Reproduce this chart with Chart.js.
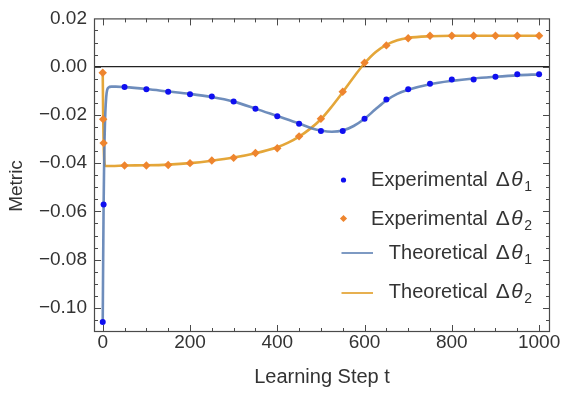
<!DOCTYPE html>
<html><head><meta charset="utf-8">
<script src="https://cdn.jsdelivr.net/npm/chart.js@4/dist/chart.umd.min.js"></script>
<style>html,body{margin:0;padding:0;background:#fff}#c{display:block}</style>
</head><body>
<canvas id="c" width="561" height="394"></canvas>
<script>
// ---- data ----
const expSteps1 = [0, 2, 50, 100, 150, 200, 250, 300, 350, 400, 450, 500, 550, 600, 650, 700, 750, 800, 850, 900, 950, 1000];
const expValues1 = [-0.1059, -0.0571, -0.0084, -0.0094, -0.0104, -0.0114, -0.0124, -0.0144, -0.0175, -0.0206, -0.0237, -0.0267, -0.0267, -0.0216, -0.0136, -0.0094, -0.0071, -0.0053, -0.0053, -0.0042, -0.0032, -0.0032];

const expSteps2 = [0, 1, 2, 50, 100, 150, 200, 250, 300, 350, 400, 450, 500, 550, 600, 650, 700, 750, 800, 850, 900, 950, 1000];
const expValues2 = [-0.0025, -0.0218, -0.0317, -0.0410, -0.0410, -0.0408, -0.0400, -0.0389, -0.0378, -0.0358, -0.0338, -0.0289, -0.0216, -0.0104, 0.0016, 0.0088, 0.0118, 0.0128, 0.0128, 0.0128, 0.0128, 0.0128, 0.0128];

const theoSteps1 = [0, 1, 2, 3, 4, 6, 8, 10, 13, 20, 30, 50, 100, 150, 200, 250, 300, 350, 400, 450, 480, 500, 525, 550, 575, 600, 625, 650, 675, 700, 750, 800, 850, 900, 950, 1000];
const theoValues1 = [-0.1059, -0.0800, -0.0580, -0.0430, -0.0320, -0.0190, -0.0125, -0.0098, -0.0087, -0.0083, -0.0083, -0.0085, -0.0093, -0.0103, -0.0113, -0.0126, -0.0145, -0.0174, -0.0205, -0.0236, -0.0256, -0.0265, -0.0270, -0.0265, -0.0246, -0.0216, -0.0177, -0.0140, -0.0113, -0.0096, -0.0073, -0.0059, -0.0049, -0.0042, -0.0036, -0.0032];

const theoSteps2 = [0, 1, 2, 3, 4, 6, 10, 20, 50, 100, 150, 200, 250, 300, 350, 400, 425, 450, 475, 500, 525, 550, 575, 600, 625, 650, 675, 700, 750, 800, 900, 1000];
const theoValues2 = [-0.0025, -0.0200, -0.0310, -0.0370, -0.0400, -0.0411, -0.0412, -0.0412, -0.0410, -0.0409, -0.0406, -0.0400, -0.0390, -0.0377, -0.0359, -0.0334, -0.0315, -0.0290, -0.0258, -0.0218, -0.0165, -0.0106, -0.0044, 0.0014, 0.0060, 0.0090, 0.0109, 0.0119, 0.0126, 0.0128, 0.0128, 0.0128];

const seriesLabels = ['Experimental \u0394\u03b8\u2081', 'Experimental \u0394\u03b8\u2082', 'Theoretical \u0394\u03b8\u2081', 'Theoretical \u0394\u03b8\u2082'];
const legendParts = [['Experimental', '\u0394', '\u03b8', '1'], ['Experimental', '\u0394', '\u03b8', '2'], ['Theoretical', '\u0394', '\u03b8', '1'], ['Theoretical', '\u0394', '\u03b8', '2']];
const xTickValues = [0, 200, 400, 600, 800, 1000];
const xTickLabels = ['0', '200', '400', '600', '800', '1000'];
const yTickValues = [-0.10, -0.08, -0.06, -0.04, -0.02, 0.00, 0.02];
const yTickLabels = ['\u22120.10', '\u22120.08', '\u22120.06', '\u22120.04', '\u22120.02', '0.00', '0.02'];
const xTitle = 'Learning Step t';
const yTitle = 'Metric';

// ---- styling ----
const FONT = '"Liberation Sans", Arial, Helvetica, sans-serif';
const BLUE_PT = '#0f0ff0';
const ORANGE_PT = '#ee852e';
const BLUE_LN = '#5e81b5';
const ORANGE_LN = '#e19c24';
const TXT = '#333333';

const toXY = (xs, ys) => xs.map((x, i) => ({x: x, y: ys[i]}));

const frameTicks = {
  id: 'frameTicks',
  afterDatasetsDraw(chart) {
    const {ctx, chartArea: a, scales: {x, y}} = chart;
    ctx.save();
    ctx.strokeStyle = '#4a4a4a';
    ctx.lineWidth = 1;
    const seg = (x1, y1, x2, y2) => { ctx.beginPath(); ctx.moveTo(x1, y1); ctx.lineTo(x2, y2); ctx.stroke(); };
    for (let v = 0; v <= 1000; v += 50) {
      const px = Math.round(x.getPixelForValue(v)) + 0.5;
      const L = v % 200 === 0 ? 7 : 4;
      seg(px, a.bottom, px, a.bottom - L);
      seg(px, a.top, px, a.top + L);
    }
    for (let k = -21; k <= 3; k++) {
      const py = Math.round(y.getPixelForValue(k * 0.005)) + 0.5;
      const L = k % 4 === 0 ? 7 : 4;
      seg(a.left, py, a.left + L, py);
      seg(a.right, py, a.right - L, py);
    }
    ctx.lineWidth = 1.2;
    ctx.strokeRect(a.left + 0.5, a.top + 0.5, a.right - a.left - 1, a.bottom - a.top - 1);
    ctx.restore();
  },
  afterDraw(chart) {
    const ctx = chart.ctx;
    ctx.save();
    ctx.translate(17, 186);
    ctx.rotate(-Math.PI / 2);
    ctx.fillStyle = TXT;
    ctx.font = '19px ' + FONT;
    ctx.textAlign = 'center';
    ctx.textBaseline = 'middle';
    ctx.fillText(yTitle, 0, 0);
    ctx.restore();
  }
};

const richLegend = {
  id: 'richLegend',
  afterDraw(chart) {
    const ctx = chart.ctx;
    const rows = [
      {base: 186, mid: 180, kind: 'dot'},
      {base: 225, mid: 218.5, kind: 'diamond'},
      {base: 258.5, mid: 253, kind: 'line', color: BLUE_LN},
      {base: 298, mid: 293, kind: 'line', color: ORANGE_LN}
    ];
    const rightEdge = 532;
    ctx.save();
    ctx.fillStyle = TXT;
    ctx.textBaseline = 'alphabetic';
    ctx.textAlign = 'left';
    rows.forEach((r, i) => {
      const [main, delta, theta, sub] = legendParts[i];
      ctx.font = '14px ' + FONT;
      const wSub = ctx.measureText(sub).width;
      const xSub = rightEdge - wSub;
      ctx.fillText(sub, xSub, r.base + 5);
      ctx.font = 'italic 21px ' + FONT;
      const wTh = ctx.measureText(theta).width;
      const xTh = xSub - 1.5 - wTh;
      ctx.fillText(theta, xTh, r.base);
      ctx.font = '21px ' + FONT;
      const wD = ctx.measureText(delta).width;
      const xD = xTh - 1.5 - wD;
      ctx.fillText(delta, xD, r.base);
      ctx.font = '20px ' + FONT;
      const wM = ctx.measureText(main).width;
      ctx.fillText(main, xD - 8 - wM, r.base);
      if (r.kind === 'dot') {
        ctx.fillStyle = BLUE_PT;
        ctx.beginPath(); ctx.arc(343.5, r.mid, 2.6, 0, Math.PI * 2); ctx.fill();
      } else if (r.kind === 'diamond') {
        ctx.fillStyle = ORANGE_PT;
        ctx.beginPath();
        ctx.moveTo(343.5, r.mid - 3.6); ctx.lineTo(347.1, r.mid); ctx.lineTo(343.5, r.mid + 3.6); ctx.lineTo(339.9, r.mid);
        ctx.closePath(); ctx.fill();
      } else {
        ctx.strokeStyle = r.color; ctx.lineWidth = 1.6;
        ctx.beginPath(); ctx.moveTo(341.5, r.mid); ctx.lineTo(373, r.mid); ctx.stroke();
      }
      ctx.fillStyle = TXT;
    });
    ctx.restore();
  }
};

new Chart(document.getElementById('c'), {
  type: 'line',
  data: {
    datasets: [
      {label: seriesLabels[0], data: toXY(expSteps1, expValues1), showLine: false, pointStyle: 'circle', pointRadius: 3, pointBackgroundColor: BLUE_PT, pointBorderWidth: 0, borderColor: BLUE_PT, order: 0},
      {label: seriesLabels[1], data: toXY(expSteps2, expValues2), showLine: false, pointStyle: 'rectRot', pointRadius: 4.2, pointBackgroundColor: ORANGE_PT, pointBorderWidth: 0, borderColor: ORANGE_PT, order: 0},
      {label: seriesLabels[2], data: toXY(theoSteps1, theoValues1), borderColor: 'rgba(94,129,181,0.9)', borderWidth: 2.6, pointRadius: 0, cubicInterpolationMode: 'monotone', order: 1},
      {label: seriesLabels[3], data: toXY(theoSteps2, theoValues2), borderColor: 'rgba(225,156,36,0.9)', borderWidth: 2.6, pointRadius: 0, cubicInterpolationMode: 'monotone', order: 1}
    ]
  },
  options: {
    responsive: false,
    animation: false,
    devicePixelRatio: 1,
    layout: {padding: {top: 14, right: 11, left: 0, bottom: 0}},
    plugins: {legend: {display: false}, tooltip: {enabled: false}},
    scales: {
      x: {
        type: 'linear', min: -20, max: 1025,
        afterBuildTicks: s => { s.ticks = xTickValues.map(v => ({value: v})); },
        afterFit: s => { s.height = 62; },
        ticks: {callback: (v) => xTickLabels[xTickValues.indexOf(v)], color: TXT, font: {family: FONT, size: 19}, padding: -1, maxRotation: 0, autoSkip: false},
        grid: {display: false, drawTicks: false},
        border: {display: false},
        title: {display: true, text: xTitle, color: TXT, font: {family: FONT, size: 20}, padding: {top: 0, bottom: 5}}
      },
      y: {
        type: 'linear', min: -0.11, max: 0.02,
        afterBuildTicks: s => { s.ticks = yTickValues.map(v => ({value: v})); },
        afterFit: s => { s.width = 94; },
        ticks: {callback: (v) => yTickLabels[yTickValues.findIndex(t => Math.abs(t - v) < 1e-9)], color: TXT, font: {family: FONT, size: 19}, padding: 7, autoSkip: false},
        grid: {drawTicks: false, lineWidth: 1.3, color: c => (c.tick && Math.abs(c.tick.value) < 1e-9) ? '#222222' : 'rgba(0,0,0,0)'},
        border: {display: false},
        title: {display: false}
      }
    }
  },
  plugins: [frameTicks, richLegend]
});
</script>
</body></html>
